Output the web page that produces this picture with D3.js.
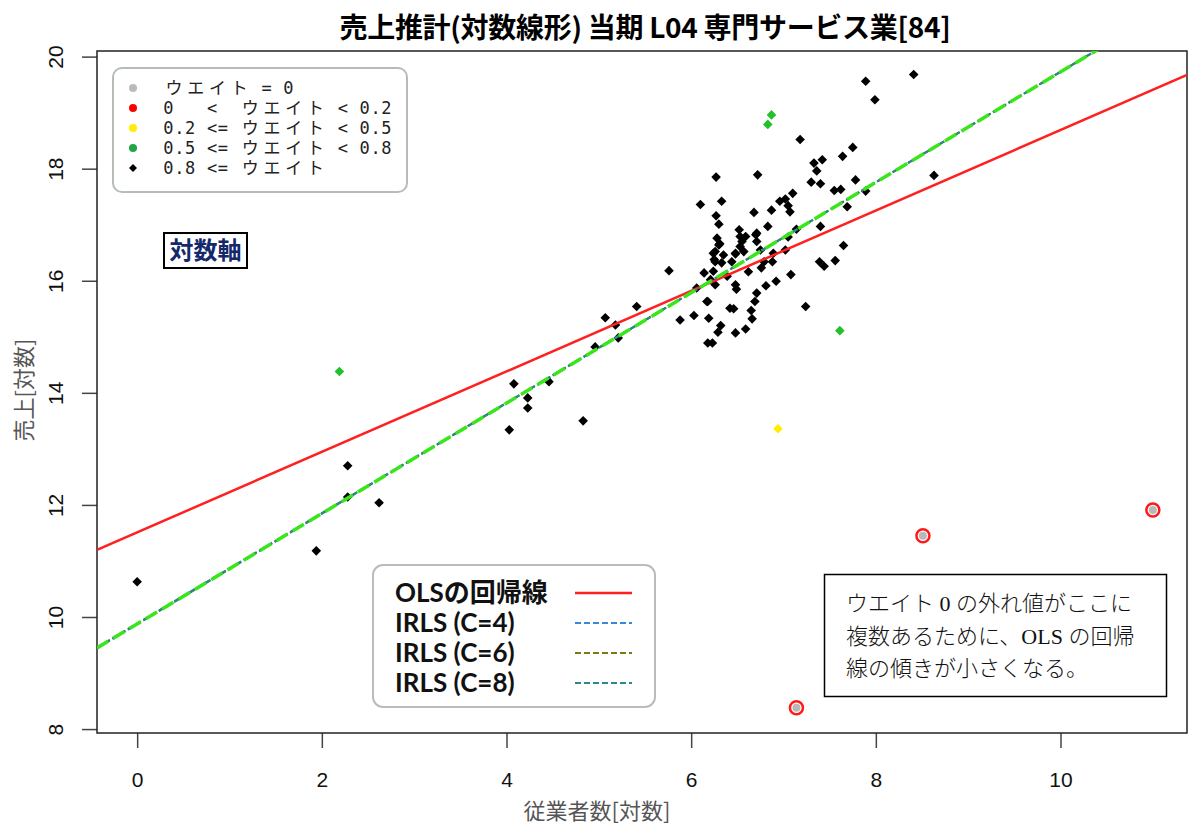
<!DOCTYPE html>
<html>
<head>
<meta charset="utf-8">
<script src="https://cdn.jsdelivr.net/npm/d3@7"></script>
<style>
  body { margin: 0; background: #fff; }
  text { font-family: "Noto Sans CJK JP", "Noto Sans", sans-serif; }
</style>
</head>
<body>
<script>
// 読み取った値 (従業者数[対数], 売上[対数])
var blackX = [0.00, 1.94, 2.28, 2.28, 2.62, 4.03, 4.08, 4.23, 4.23, 4.46, 4.83, 4.96, 5.07, 5.18, 5.21, 5.41, 5.76, 5.88,
  7.89, 8.41, 7.99, 7.18, 7.75, 7.64, 7.33, 7.42, 7.36, 8.63, 7.30, 7.40, 7.78, 6.27, 6.72, 7.55, 7.62, 7.89, 7.10, 7.02,
  6.96, 6.10, 6.33, 7.69, 7.05, 7.07, 6.68, 6.87, 6.27, 6.30, 6.83, 7.40, 6.52, 6.71, 7.14, 7.05, 6.59, 6.55, 6.28, 6.31,
  7.65, 6.71, 6.89, 6.48, 6.26, 7.02, 6.79, 6.88, 6.25, 6.62, 6.76, 7.08, 7.39, 7.44, 7.56, 6.14, 6.48, 6.49, 6.71, 6.81,
  6.92, 6.18, 6.42, 6.46, 6.65, 6.66, 7.24, 6.03, 6.19, 6.32, 6.29, 6.48, 6.59, 6.18, 6.23, 6.53, 6.70, 6.30, 6.53, 6.24,
  6.35, 6.48, 6.57, 6.75, 6.26, 6.33, 6.44, 6.24, 6.21, 6.26, 6.39, 6.06, 6.17, 6.69];
var blackY = [10.63, 11.18, 12.70, 12.14, 12.04, 13.34, 14.16, 13.91, 13.73, 14.20, 13.50, 14.82, 15.34, 15.21, 14.98, 15.54, 16.18, 15.30,
  19.56, 19.68, 19.23, 18.52, 18.38, 18.22, 18.10, 18.16, 17.96, 17.88, 17.76, 17.73, 17.80, 17.85, 17.89, 17.61, 17.63, 17.60, 17.56, 17.46,
  17.42, 17.36, 17.42, 17.32, 17.34, 17.23, 17.22, 17.26, 17.16, 17.01, 16.97, 16.97, 16.91, 16.85, 16.92, 16.78, 16.79, 16.70, 16.76, 16.66,
  16.63, 16.70, 16.49, 16.48, 16.52, 16.55, 16.34, 16.34, 16.38, 16.16, 16.23, 16.11, 16.34, 16.26, 16.36, 16.14, 15.93, 15.85, 15.78, 15.91,
  15.99, 15.63, 15.51, 15.50, 15.47, 15.32, 15.54, 15.38, 15.33, 15.20, 15.08, 15.07, 15.14, 14.89, 14.89, 16.79, 16.82, 16.64, 16.61, 16.49,
  16.46, 16.49, 16.52, 16.55, 16.34, 16.32, 16.34, 16.17, 16.02, 15.93, 16.08, 15.87, 15.63, 15.63];
var greenX = [2.19, 6.87, 6.83, 7.61];
var greenY = [14.38, 18.96, 18.79, 15.11];
var yellowX = [6.94];
var yellowY = [13.36];
var zeroX = [7.14, 8.51, 11.00];   // ウエイト = 0 の外れ値
var zeroY = [8.38, 11.45, 11.91];

// 回帰線 (切片, 傾き)
var lineNames = ["OLSの回帰線", "IRLS (C=4)", "IRLS (C=6)", "IRLS (C=8)", null];
var lineIntercepts = [11.51, 9.870, 9.880, 9.885, 9.877];
var lineSlopes = [0.718, 0.986, 0.985, 0.984, 0.985];

var xTicks = [0, 2, 4, 6, 8, 10];
var yTicks = [8, 10, 12, 14, 16, 18, 20];

var weightLabels = ["ウエイト = 0", "0   <  ウエイト < 0.2", "0.2 <= ウエイト < 0.5", "0.5 <= ウエイト < 0.8", "0.8 <= ウエイト"];
var weightColors = ["#bbbbbb", "#ff0000", "#ffee00", "#1fa648", "#000000"];

var lineColors = ["#ff2020", "#3a88d8", "#7a7a10", "#2a8a8a", "#38e61a"];
var lineDash = [null, "6,3", "6,3", "6,3", "13,6"];
var lineWidth = [2.5, 2, 2, 2, 3.5];

var W = 1189, H = 828;
var plot = {left: 97, top: 51, right: 1187, bottom: 733};

var svg = d3.select("body").append("svg")
  .attr("width", W)
  .attr("height", H);

var x = d3.scaleLinear().domain([-0.435, 11.37]).range([plot.left, plot.right]);
var y = d3.scaleLinear().domain([7.93, 20.1]).range([plot.bottom, plot.top]);

svg.append("clipPath").attr("id", "clip")
  .append("rect")
  .attr("x", plot.left).attr("y", plot.top)
  .attr("width", plot.right - plot.left).attr("height", plot.bottom - plot.top);

// タイトル
svg.append("text")
  .attr("x", 645).attr("y", 38)
  .attr("text-anchor", "middle")
  .style("font-size", "28px").style("font-weight", "bold")
  .style("letter-spacing", "-0.3px")
  .text("売上推計(対数線形) 当期 L04 専門サービス業[84]");

// 軸
var xAxis = svg.append("g")
  .attr("transform", "translate(0," + plot.bottom + ")")
  .call(d3.axisBottom(x).tickValues(xTicks).tickSize(15).tickPadding(24).tickFormat(d3.format("d")));
xAxis.select(".domain").remove();
xAxis.selectAll("line").attr("stroke", "#444").attr("stroke-width", 1.5);
xAxis.selectAll("text").style("font-size", "21px").style("font-family", "Liberation Sans, Arial, sans-serif").attr("fill", "#111");

var yAxis = svg.append("g")
  .attr("transform", "translate(" + plot.left + ",0)")
  .call(d3.axisLeft(y).tickValues(yTicks).tickSize(15).tickFormat(d3.format("d")));
yAxis.select(".domain").remove();
yAxis.selectAll("line").attr("stroke", "#444").attr("stroke-width", 1.5);
yAxis.selectAll("text")
  .attr("x", null).attr("dy", null)
  .attr("text-anchor", "middle")
  .attr("transform", "translate(-42,0) rotate(-90) translate(0,8)")
  .style("font-size", "21px").style("font-family", "Liberation Sans, Arial, sans-serif").attr("fill", "#111");

// 軸ラベル
svg.append("text")
  .attr("x", 597).attr("y", 819)
  .attr("text-anchor", "middle")
  .style("font-size", "22px").attr("fill", "#555")
  .text("従業者数[対数]");
svg.append("text")
  .attr("transform", "translate(32,390) rotate(-90)")
  .attr("text-anchor", "middle")
  .style("font-size", "22px").attr("fill", "#555")
  .text("売上[対数]");

// 枠
svg.append("rect")
  .attr("x", plot.left).attr("y", plot.top)
  .attr("width", plot.right - plot.left).attr("height", plot.bottom - plot.top)
  .attr("fill", "none").attr("stroke", "#222").attr("stroke-width", 1.5);

// R の pch=18 風のひし形
var diamond = "M0,-4.8L4.8,0L0,4.8L-4.8,0Z";
var pts = svg.append("g").attr("clip-path", "url(#clip)");

function drawPoints(xs, ys, color) {
  pts.selectAll(null).data(d3.range(xs.length)).enter()
    .append("path")
    .attr("d", diamond)
    .attr("transform", function (i) { return "translate(" + x(xs[i]) + "," + y(ys[i]) + ")"; })
    .attr("fill", color);
}
drawPoints(blackX, blackY, "#000");
drawPoints(greenX, greenY, "#22c02a");
drawPoints(yellowX, yellowY, "#ffee00");

// ウエイト 0 の点
var zero = pts.selectAll("g.zero").data(d3.range(zeroX.length)).enter()
  .append("g").attr("class", "zero")
  .attr("transform", function (i) { return "translate(" + x(zeroX[i]) + "," + y(zeroY[i]) + ")"; });
zero.append("circle").attr("r", 4).attr("fill", "#b8b8b8");
zero.append("circle").attr("r", 6.5).attr("fill", "none").attr("stroke", "#ff1a1a").attr("stroke-width", 2.5);

// 回帰線
var lines = svg.append("g").attr("clip-path", "url(#clip)");
var x0 = x.domain()[0], x1 = x.domain()[1];
lineNames.forEach(function (n, i) {
  lines.append("line")
    .attr("x1", x(x0)).attr("y1", y(lineIntercepts[i] + lineSlopes[i] * x0))
    .attr("x2", x(x1)).attr("y2", y(lineIntercepts[i] + lineSlopes[i] * x1))
    .attr("stroke", lineColors[i])
    .attr("stroke-width", lineWidth[i])
    .attr("stroke-dasharray", lineDash[i]);
});

// ウエイトの凡例
var lg1 = svg.append("g");
lg1.append("rect")
  .attr("x", 113).attr("y", 68).attr("width", 294).attr("height", 124)
  .attr("rx", 9).attr("fill", "#fff").attr("stroke", "#b5bdb5").attr("stroke-width", 2);
var colW = 10.9, fs = 17;
weightLabels.forEach(function (s, i) {
  var cy = 88 + i * 20;
  if (i < 4) {
    lg1.append("circle").attr("cx", 133).attr("cy", cy).attr("r", 4).attr("fill", weightColors[i]);
  } else {
    lg1.append("path").attr("d", "M0,-4L4,0L0,4L-4,0Z")
      .attr("transform", "translate(133," + cy + ")").attr("fill", weightColors[i]);
  }
  // 等幅で一文字ずつ位置を決める (全角は2桁)
  var col = 0, xs = [];
  Array.from(s).forEach(function (ch) {
    var wide = ch.charCodeAt(0) > 0x2000;
    var adv = wide ? fs : fs * 0.602;
    var cw = (wide ? 2 : 1) * colW;
    xs.push((163 + col * colW + (cw - adv) / 2).toFixed(1));
    col += wide ? 2 : 1;
  });
  lg1.append("text")
    .attr("xml:space", "preserve")
    .style("white-space", "pre")
    .attr("x", xs.join(" ")).attr("y", cy + 6)
    .style("font-size", fs + "px")
    .style("font-family", "DejaVu Sans Mono, Noto Sans CJK JP, monospace")
    .attr("fill", "#222")
    .text(s);
});

// 回帰線の凡例
var lg2 = svg.append("g");
lg2.append("rect")
  .attr("x", 373).attr("y", 565).attr("width", 282).attr("height", 142)
  .attr("rx", 10).attr("fill", "#fff").attr("stroke", "#bbb").attr("stroke-width", 2);
lineNames.forEach(function (n, i) {
  if (!n) return;
  var cy = 593 + i * 30;
  lg2.append("text")
    .attr("x", 395).attr("y", cy + 9)
    .style("font-size", "26px").style("font-weight", "bold")
    .style("font-family", "Lato, Noto Sans CJK JP, sans-serif")
    .attr("fill", "#111")
    .text(n);
  lg2.append("line")
    .attr("x1", 575).attr("x2", 632).attr("y1", cy).attr("y2", cy)
    .attr("stroke", lineColors[i])
    .attr("stroke-width", i === 0 ? 2.5 : 2)
    .attr("stroke-dasharray", lineDash[i]);
});

// 対数軸
svg.append("rect")
  .attr("x", 164).attr("y", 233).attr("width", 83).attr("height", 35)
  .attr("fill", "#fff").attr("stroke", "#000").attr("stroke-width", 2);
svg.append("text")
  .attr("x", 205.5).attr("y", 259)
  .attr("text-anchor", "middle")
  .style("font-size", "24px").style("font-weight", "bold")
  .attr("fill", "#13296b")
  .text("対数軸");

// 注記
svg.append("rect")
  .attr("x", 824.5).attr("y", 574.5).attr("width", 342).attr("height", 122)
  .attr("fill", "#fff").attr("stroke", "#000").attr("stroke-width", 1.5);
var note = ["ウエイト 0 の外れ値がここに", "複数あるために、OLS の回帰", "線の傾きが小さくなる。"];
note.forEach(function (s, i) {
  svg.append("text")
    .attr("x", 846).attr("y", 611 + i * 32.5)
    .style("font-size", "22px")
    .style("font-family", "Liberation Serif, Noto Sans CJK JP, serif")
    .style("font-weight", 300)
    .attr("fill", "#111")
    .text(s);
});
</script>
</body>
</html>
